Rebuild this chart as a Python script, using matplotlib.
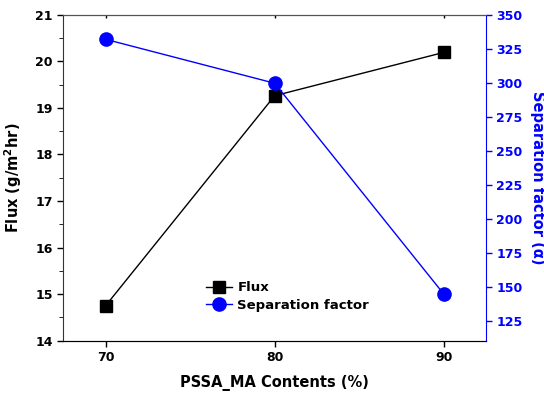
import matplotlib.pyplot as plt
from matplotlib.ticker import MultipleLocator

contents = [70, 80, 90]
flux = [14.75, 19.26, 20.19]
separation = [331.9, 299.6, 144.6]

plt.rcParams['font.family'] = 'DejaVu Sans'
plt.rcParams['font.weight'] = 'bold'

fig = plt.figure(figsize=(5.44, 3.94), dpi=100)
ax1 = fig.add_axes([0.1164, 0.1353, 0.777, 0.8274])
ax2 = ax1.twinx()

l1, = ax1.plot(contents, flux, color='black', linewidth=1.0, marker='s',
               markersize=9, label='Flux')
l2, = ax2.plot(contents, separation, color='blue', linewidth=1.0, marker='o',
               markersize=9.5, label='Separation factor')

ax1.set_xlim(67.5, 92.5)
ax1.set_ylim(14, 21)
ax2.set_ylim(110.3, 350)
ax1.set_xticks(contents)
ax1.yaxis.set_major_locator(MultipleLocator(1))
ax1.yaxis.set_minor_locator(MultipleLocator(0.5))
ax2.set_yticks([125, 150, 175, 200, 225, 250, 275, 300, 325, 350])

ax1.tick_params(axis='both', labelsize=9, length=4, width=1, direction='out')
ax1.tick_params(axis='y', which='minor', length=3, direction='out')
ax1.tick_params(axis='x', top=True, which='major')
ax1.xaxis.set_tick_params(which='major', top=True)
for t in ax1.xaxis.get_major_ticks():
    t.tick2line.set_marker(3)  # inward tick on top spine
    t.tick2line.set_markersize(2)
ax2.tick_params(axis='y', labelsize=9, length=4, width=1, colors='blue', direction='out')
for lab in ax1.get_xticklabels() + ax1.get_yticklabels() + ax2.get_yticklabels():
    lab.set_fontweight('bold')

ax2.spines['right'].set_color('blue')
ax2.spines['left'].set_visible(False)
ax1.spines['right'].set_visible(False)
for s in ['top', 'bottom', 'left']:
    ax1.spines[s].set_color('#333333')
ax2.spines['top'].set_color('#555555')

ax1.set_xlabel('PSSA_MA Contents (%)', fontsize=10.5, fontweight='bold', labelpad=8)
ax1.set_ylabel('Flux (g/m$^\\mathbf{2}$hr)', fontsize=10.5, fontweight='bold', labelpad=8)
ax2.set_ylabel('Separation factor (α)', fontsize=10.5, fontweight='bold', color='blue',
               rotation=270, labelpad=16)

ax1.legend([l1, l2], ['Flux', 'Separation factor'], loc='center',
           bbox_to_anchor=(0.53, 0.135), frameon=False,
           handlelength=2.0, handletextpad=0.4, labelspacing=0.35,
           prop={'weight': 'bold', 'size': 9.5})

fig.savefig('out.png', dpi=100)
